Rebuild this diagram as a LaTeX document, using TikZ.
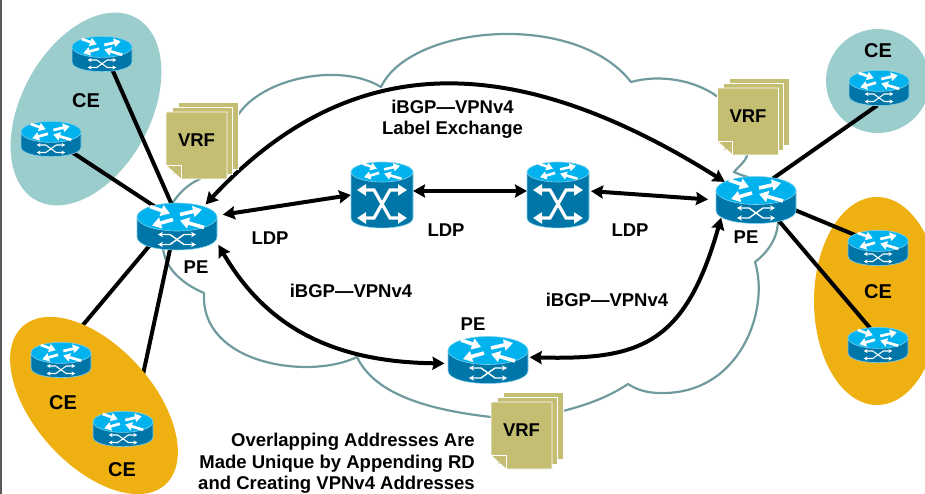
\documentclass[tikz,border=0pt]{standalone}
\usepackage{fontspec}
\setmainfont{Liberation Sans}
\usetikzlibrary{arrows.meta,backgrounds,shapes.geometric}
\definecolor{cetealcolor}{HTML}{9CCDCD}
\definecolor{ceorangecolor}{HTML}{EFB112}
\definecolor{vrfcolor}{HTML}{C4BE73}
\definecolor{cloudcolor}{HTML}{6F9A9E}
\definecolor{icontop}{HTML}{00B2EE}
\definecolor{iconside}{HTML}{0076A8}
\definecolor{iconedge}{HTML}{7FD0EA}
\newcommand{\toparrows}[1]{
\draw [iconarrow=#1] (3,-12) -- (25,-17);
\draw [iconarrow=#1] (-4,-7) -- (-25,-1);
\draw [iconarrow=#1] (-27,-20) -- (-7,-13);
\draw [iconarrow=#1] (27,1) -- (3,-6);
}
\begin{document}
\begin{tikzpicture}[x=1pt,y=-1pt,
iconarrow/.style={white,line width=#1*3.6pt,-{Triangle[length=#1*9pt,width=#1*11pt]}},
iconcross/.style={white,line width=#1*1.4pt,{Stealth[length=#1*5pt,width=#1*5.5pt]}-{Stealth[length=#1*5pt,width=#1*5.5pt]}},
bigcross/.style={white,line width=3.2pt,{Triangle[length=9pt,width=11pt]}-{Triangle[length=9pt,width=11pt]}},
peroute/.style={ellipse,minimum width=80pt,minimum height=47pt,inner sep=0pt,outer sep=0pt},
ceroute/.style={ellipse,minimum width=60pt,minimum height=35pt,inner sep=0pt,outer sep=0pt},
lsr/.style={rectangle,minimum width=62pt,minimum height=66pt,inner sep=0pt,outer sep=0pt},
blob/.style={ellipse,inner sep=0pt,outer sep=0pt},
tag/.style={font=\bfseries\fontsize{18.5}{21.5}\selectfont,inner sep=0pt},
cetag/.style={font=\bfseries\fontsize{20}{24}\selectfont,inner sep=0pt},
cloudline/.style={draw=cloudcolor,line width=2.2pt,line join=round},
link/.style={line width=4pt},
session/.style={line width=4pt,{Stealth[length=12pt,width=13pt,inset=1.5pt]}-{Stealth[length=12pt,width=13pt,inset=1.5pt]}},
page/.style={fill=vrfcolor,draw=white,line width=0.8pt},
pics/routericon/.style={code={
\begin{scope}[scale=#1]
\filldraw [fill=iconside,draw=iconedge,line width=0.6pt] (-40,-9.5) -- (-40,10.5) .. controls (-40,27.8) and (40,27.8) .. (40,10.5) -- (40,-9.5) -- cycle;
\filldraw [fill=icontop,draw=iconedge,line width=0.6pt] (0,-9.5) ellipse (40 and 14);
\toparrows{#1}
\draw [iconcross=#1] (-19,8) -- (-7,8) -- (7,18) -- (19,18);
\draw [iconcross=#1] (-19,18) -- (-7,18) -- (7,8) -- (19,8);
\end{scope}
}},
pics/lsricon/.style={code={
\filldraw [fill=iconside,draw=iconedge,line width=0.6pt] (-31,-23) -- (-31,23) .. controls (-31,36.3) and (31,36.3) .. (31,23) -- (31,-23) -- cycle;
\filldraw [fill=icontop,draw=iconedge,line width=0.6pt] (0,-23) ellipse (31 and 10);
\begin{scope}[yshift=17pt,scale=.72]
\toparrows{.72}
\end{scope}
\draw [bigcross] (-25,-5) -- (-8,-5) -- (8,23) -- (25,23);
\draw [bigcross] (-25,23) -- (-8,23) -- (8,-5) -- (25,-5);
}},
pics/vrfstack/.style={code={
\filldraw [page] (-18.5,-43.5) rectangle (41.5,23.5);
\filldraw [page] (-24.5,-38.5) rectangle (35.5,28.5);
\filldraw [page] (-30.5,-33.5) -- (30.5,-33.5) -- (30.5,33.5) -- (-15.5,33.5) -- (-30.5,20) -- cycle;
\draw [white,line width=0.8pt] (-30.5,20) -- (-15.5,20) -- (-15.5,33.5);
\node (-label) [tag] at (0,-5) {VRF};
}}]
\useasboundingbox (0,0) rectangle (925,494);
\draw [black!65,line width=1.5pt] (0.75,0) -- (0.75,494);

\node (ce1) [ceroute] at (102,54) {};
\node (ce2) [ceroute] at (51,139) {};
\node (ce3) [ceroute] at (61,360) {};
\node (ce4) [ceroute] at (123,429) {};
\node (ce5) [ceroute] at (879,88) {};
\node (ce6) [ceroute] at (878,248) {};
\node (ce7) [ceroute] at (878,345) {};
\node (pe1) [peroute] at (177,226.5) {};
\node (pe2) [peroute] at (756,200) {};
\node (pe3) [peroute] at (488,360) {};
\node (lsr1) [lsr] at (382,195) {};
\node (lsr2) [lsr] at (558,195) {};

\begin{scope}[on background layer]
\draw [cloudline] (238,115) .. controls (262,78) and (340,62) .. (381,87)
 .. controls (410,25) and (575,10) .. (631,82)
 .. controls (660,74) and (695,80) .. (718,97)
 -- (747,156) .. controls (745,162) and (738,167) .. (734,172)
 .. controls (738,174) and (744,176) .. (748,177)
 -- (778,220) .. controls (778,238) and (768,252) .. (755,262)
 .. controls (770,310) and (740,395) .. (660,393)
 .. controls (648,393) and (637,390) .. (628,384)
 .. controls (610,396) and (590,404) .. (563,411)
 -- (491,417) .. controls (430,410) and (375,395) .. (357,357)
 .. controls (310,380) and (200,365) .. (204,293)
 .. controls (185,285) and (165,270) .. (163,248)
 -- (172,204) .. controls (178,194) and (188,184) .. (200,179)
 -- cycle;
\draw [link] (pe1.214) to (ce3.68);
\draw [link] (pe1.253) to (ce4.54);
\node (blobtl) [blob,fill=cetealcolor,minimum width=129pt,minimum height=208pt,rotate=-28.6] at (86,109) {};
\node (blobtr) [blob,fill=cetealcolor,minimum width=104pt,minimum height=104pt] at (878,81) {};
\node (blobbl) [blob,fill=ceorangecolor,minimum width=119pt,minimum height=213pt,rotate=42] at (94,405.5) {};
\node (blobr) [blob,fill=ceorangecolor,minimum width=126pt,minimum height=208pt] at (877,301) {};
\draw [link] (ce1.303) to (pe1.104);
\draw [link] (ce2.-32) to (pe1.138);
\draw [link] (ce5.264) to (pe2.52);
\draw [link] (pe2.-14) to (ce6.150);
\draw [link] (pe2.-42) to (ce7.115);
\draw [session,shorten <=10pt] (pe1.16) to (lsr1.west);
\draw [session] ([yshift=4pt]lsr1.east) to ([yshift=4pt]lsr2.west);
\draw [session,shorten >=8pt,shorten <=2pt] ([yshift=4pt]lsr2.east) to (pe2.west);
\draw [session,shorten <=5pt,shorten >=3pt] (pe1.36) .. controls (350,49) and (513,49) .. (pe2.150);
\draw [session,shorten <=10pt,shorten >=4pt] (pe1.-15) .. controls (265,325) and (330,362) .. (pe3.185);
\draw [session,shorten <=2pt,shorten >=5pt] (pe3.4) .. controls (640,360) and (685,345) .. (pe2.201);
\end{scope}

\pic at (ce1) {routericon=.75};
\pic at (ce2) {routericon=.75};
\pic at (ce3) {routericon=.75};
\pic at (ce4) {routericon=.75};
\pic at (ce5) {routericon=.75};
\pic at (ce6) {routericon=.75};
\pic at (ce7) {routericon=.75};
\pic at (pe1) {routericon=1};
\pic at (pe2) {routericon=1};
\pic at (pe3) {routericon=1};
\pic at (lsr1) {lsricon};
\pic at (lsr2) {lsricon};
\pic (vrfa) at (196.5,145.5) {vrfstack};
\pic (vrfb) at (748,121.5) {vrfstack};
\pic (vrfc) at (521.5,435.5) {vrfstack};

\node (cetag1) [cetag] at (86,101) {CE};
\node (cetag2) [cetag] at (878,51) {CE};
\node (cetag3) [cetag] at (878,292) {CE};
\node (cetag4) [cetag] at (63,403) {CE};
\node (cetag5) [cetag] at (122,470) {CE};
\node (petag1) [tag] at (196,267) {PE};
\node (petag2) [tag] at (746,237) {PE};
\node (petag3) [tag] at (473,324) {PE};
\node (ldp1) [tag] at (270,238) {LDP};
\node (ldp2) [tag] at (446,230) {LDP};
\node (ldp3) [tag] at (630,230) {LDP};
\node (ibgp1) [tag] at (351,291) {iBGP—VPNv4};
\node (ibgp2) [tag] at (607,300) {iBGP—VPNv4};
\node (ibgp3) [tag,align=center] at (452.5,119.5) {iBGP—VPNv4\\Label Exchange};
\node (note) [tag,align=right,anchor=east] at (475,463.5) {Overlapping Addresses Are\\Made Unique by Appending RD\hspace{4pt}\\and Creating VPNv4 Addresses};
\end{tikzpicture}
\end{document}
